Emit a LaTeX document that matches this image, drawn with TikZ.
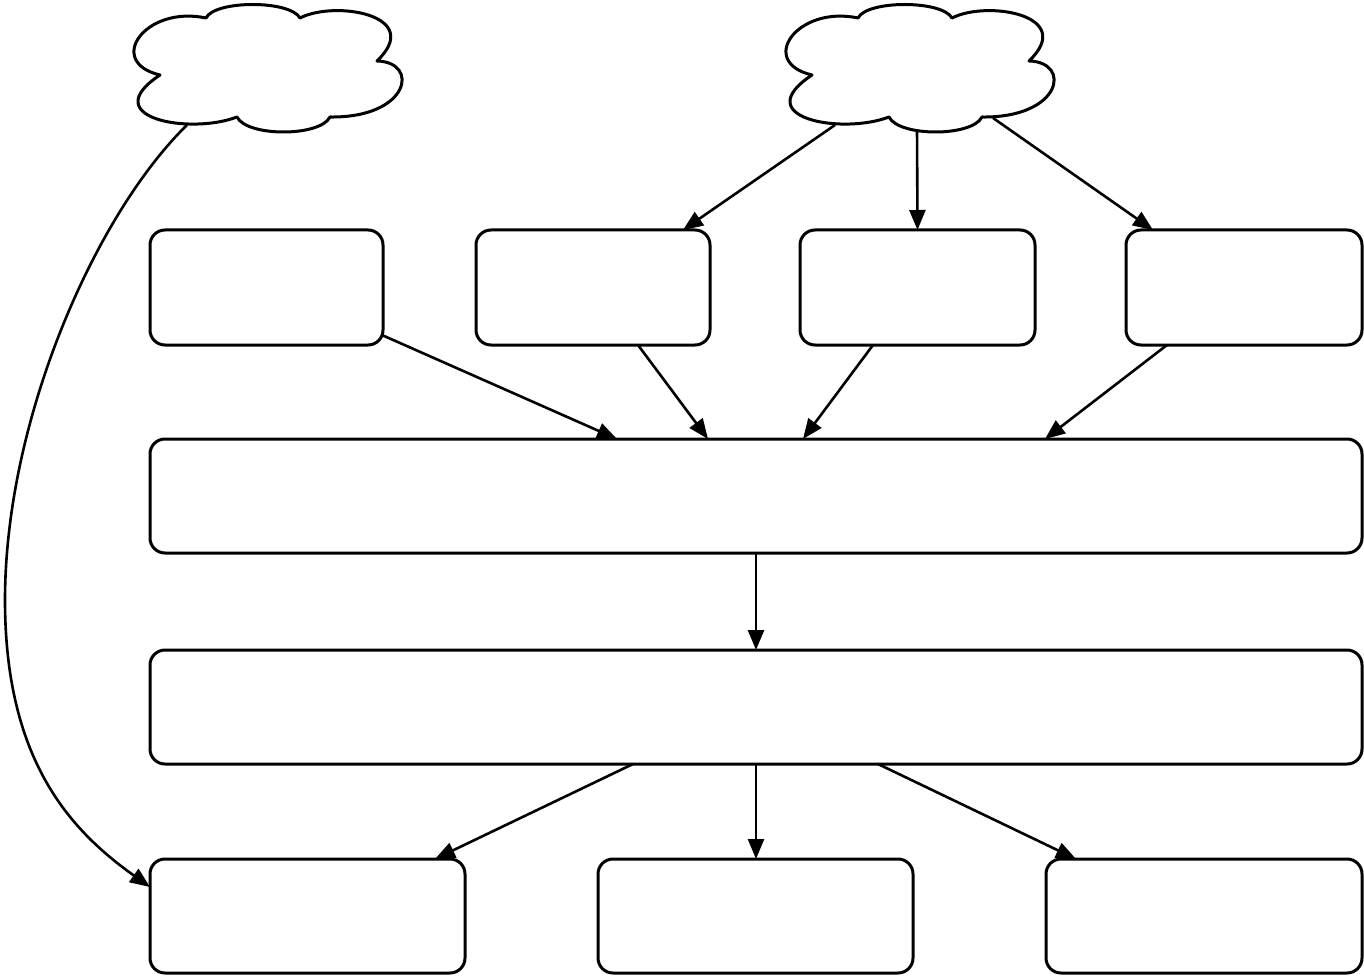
\documentclass[tikz,border=0pt]{standalone}
\usetikzlibrary{arrows.meta}
\begin{document}
\begin{tikzpicture}[x=1pt,y=-1pt,
  line width=3pt,
  boxnode/.style={draw=black,line width=3pt,rounded corners=15pt,inner sep=0pt,outer sep=0pt,fill=white},
  ghost/.style={inner sep=0pt,outer sep=0pt,minimum width=268pt,minimum height=127pt},
  arr/.style={-{Triangle[length=20pt,width=16pt]},line width=2.6pt},
  cloudline/.style={draw=black,line width=3pt,line join=round,fill=white}]
\useasboundingbox (0,0) rectangle (1364,976);
\fill[white] (0,0) rectangle (1364,976);
\newcommand{\mycloudpath}{%
  (160,75) .. controls (105,62) and (145,5) .. (206,18)
  .. controls (215,0) and (290,0) .. (300,18)
  .. controls (335,0) and (425,15) .. (377,61)
  .. controls (420,62) and (410,118) .. (330,117)
  .. controls (320,137) and (247,137) .. (237,117)
  .. controls (190,135) and (95,118) .. (160,75) -- cycle}
% clouds
\path[cloudline] \mycloudpath;
\begin{scope}[shift={(652,0)}]
\path[cloudline] \mycloudpath;
\end{scope}
\node[ghost] (k1) at (267,68.5) {};
\node[ghost] (k2) at (919,68.5) {};
% boxes
\node[boxnode,minimum width=233pt,minimum height=115pt] (A) at (266.5,287.5) {};
\node[boxnode,minimum width=234pt,minimum height=115pt] (B) at (593,287.5) {};
\node[boxnode,minimum width=235pt,minimum height=115pt] (C) at (917.5,287.5) {};
\node[boxnode,minimum width=236pt,minimum height=115pt] (D) at (1244,287.5) {};
\node[boxnode,minimum width=1212pt,minimum height=114pt] (W1) at (756,496) {};
\node[boxnode,minimum width=1212pt,minimum height=114pt] (W2) at (756,707) {};
\node[boxnode,minimum width=315pt,minimum height=114pt] (E) at (307.5,916) {};
\node[boxnode,minimum width=315pt,minimum height=114pt] (F) at (755.5,916) {};
\node[boxnode,minimum width=316pt,minimum height=114pt] (G) at (1204,916) {};
% connectors
\draw[arr] ([xshift=-84pt,yshift=7pt]k2.south) -- ([xshift=90pt]B.north);
\draw[arr] ([xshift=-2pt,yshift=2pt]k2.south) -- (C.north);
\draw[arr] ([xshift=74pt,yshift=14pt]k2.south) -- ([xshift=27pt]D.north west);
\draw[arr] ([yshift=-48pt]A.east) -- ([xshift=467pt]W1.north west);
\draw[arr] ([xshift=45pt]B.south) -- ([xshift=558pt]W1.north west);
\draw[arr] ([xshift=-44.5pt]C.south) -- ([xshift=653pt]W1.north west);
\draw[arr] ([xshift=-77pt]D.south) -- ([xshift=895pt]W1.north west);
\draw[arr] (W1.south) -- (W2.north);
\draw[arr] ([xshift=-123pt]W2.south) -- ([xshift=127.5pt]E.north);
\draw[arr] (W2.south) -- (W2.south |- F.north);
\draw[arr] ([xshift=122pt]W2.south) -- ([xshift=-128pt]G.north);
\draw[arr] ([xshift=-80pt,yshift=7pt]k1.south) .. controls (95,215) and (5,420) .. (5,600)
  .. controls (5,760) and (70,830) .. ([yshift=29pt]E.west);
\end{tikzpicture}
\end{document}
